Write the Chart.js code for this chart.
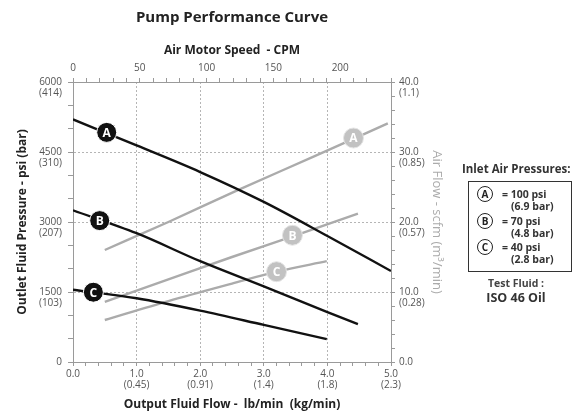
<!DOCTYPE html>
<html>
<head>
<meta charset="utf-8">
<title>Pump Performance Curve</title>
<script src="https://cdn.jsdelivr.net/npm/chart.js@4.4.1/dist/chart.umd.min.js"></script>
<style>
    body { margin: 0; background: #fff; font-family: 'Open Sans', sans-serif; }
    #wrap { position: relative; width: 576px; height: 413px; }
    .legend-title { position: absolute; left: 462px; top: 161px; font-size: 11.5px; font-weight: 700; color: #333; white-space: nowrap; }
    .legend-box { position: absolute; left: 468px; top: 181px; width: 102px; height: 89px; border: 1.5px solid #333; }
    .badge { position: absolute; width: 14px; height: 14px; border: 1.8px solid #222; border-radius: 50%;
             font-size: 10px; font-weight: 700; line-height: 14px; text-align: center; color: #222; }
    .lg-text { position: absolute; font-size: 10.5px; font-weight: 700; color: #333; white-space: nowrap; }
    .fluid { position: absolute; left: 470px; top: 276px; width: 92px; text-align: center; color: #333; }
    .fluid .t1 { font-size: 10.5px; font-weight: 700; color: #444; }
    .fluid .t2 { font-size: 12.5px; font-weight: 700; margin-top: -1px; }
</style>
</head>
<body>
<div id="wrap">
    <canvas id="pumpChart"></canvas>
    <div class="legend-title">Inlet Air Pressures:</div>
    <div class="legend-box" id="legendBox"></div>
    <div class="fluid"><div class="t1">Test Fluid :</div><div class="t2">ISO 46 Oil</div></div>
</div>
<script>
// Pump curve data

// Outlet fluid pressure (psi) vs output flow (lb/min) - black curves
const flowA = [0, 1, 2, 3, 4, 5];
const pressureA = [5200, 4640, 4070, 3430, 2700, 1950];
const flowB = [0, 1, 2, 3, 4, 4.48];
const pressureB = [3250, 2760, 2160, 1620, 1070, 810];
const flowC = [0, 1, 2, 3, 3.99];
const pressureC = [1550, 1365, 1100, 795, 490];

// Air flow (scfm) vs output flow - grey curves
const airFlowXA = [0.5, 1.5, 2.6, 3.8, 4.95];
const airA = [16.0, 20.0, 24.6, 29.4, 34.1];
const airFlowXB = [0.5, 1.5, 2.5, 3.5, 4.48];
const airB = [8.6, 11.8, 15.0, 18.1, 21.2];
const airFlowXC = [0.5, 1.5, 2.5, 3.2, 3.99];
const airC = [6.0, 8.7, 11.2, 12.9, 14.4];

// Curve markers (letters sit on the curves)
const curveLetters = ['A', 'B', 'C'];
const pressureMarkX = [0.53, 0.42, 0.32];
const pressureMarkY = [4920, 3030, 1495];
const airMarkX = [4.41, 3.45, 3.2];
const airMarkY = [32.0, 18.1, 12.9];

// Tick labels
const flowTicks = [0, 1, 2, 3, 4, 5];
const flowLbLabels = ['0.0', '1.0', '2.0', '3.0', '4.0', '5.0'];
const flowKgLabels = ['', '(0.45)', '(0.91)', '(1.4)', '(1.8)', '(2.3)'];
const psiTicks = [0, 1500, 3000, 4500, 6000];
const psiLabels = ['0', '1500', '3000', '4500', '6000'];
const barLabels = ['', '(103)', '(207)', '(310)', '(414)'];
const scfmTicks = [0, 10, 20, 30, 40];
const scfmLabels = ['0.0', '10.0', '20.0', '30.0', '40.0'];
const m3Labels = ['', '(0.28)', '(0.57)', '(0.85)', '(1.1)'];
const cpmTicks = [0, 50, 100, 150, 200];

// Inlet air pressure legend
const legendPsi = ['= 100 psi', '= 70 psi', '= 40 psi'];
const legendBar = ['(6.9 bar)', '(4.8 bar)', '(2.8 bar)'];

const BLACK = '#111111';
const GREY = '#ababab';
const GRID = '#b5b5b5';
const AXIS = '#9a9a9a';
const TICK_TEXT = '#555555';

function pairs(xs, ys) {
    return xs.map((x, i) => ({ x: x, y: ys[i] }));
}

function isNear(v, list) {
    return list.findIndex(t => Math.abs(t - v) < 1e-6);
}

// Draws the letter inside each curve marker
const markerLetters = {
    id: 'markerLetters',
    afterDatasetsDraw(chart) {
        const ctx = chart.ctx;
        chart.data.datasets.forEach((ds, i) => {
            if (!ds.letters) return;
            const meta = chart.getDatasetMeta(i);
            meta.data.forEach((pt, j) => {
                ctx.save();
                ctx.font = 'bold 12px "Open Sans"';
                ctx.fillStyle = '#ffffff';
                ctx.textAlign = 'center';
                ctx.textBaseline = 'middle';
                ctx.fillText(ds.letters[j], pt.x, pt.y + 1);
                ctx.restore();
            });
        });
    }
};

function buildLegend() {
    const box = document.getElementById('legendBox');
    curveLetters.forEach((letter, i) => {
        const top = 4 + i * 26.5;
        const badge = document.createElement('span');
        badge.className = 'badge';
        badge.style.left = '8px';
        badge.style.top = top + 'px';
        badge.textContent = letter;
        box.appendChild(badge);

        const psi = document.createElement('span');
        psi.className = 'lg-text';
        psi.style.left = '33px';
        psi.style.top = (top + 1) + 'px';
        psi.textContent = legendPsi[i];
        box.appendChild(psi);

        const bar = document.createElement('span');
        bar.className = 'lg-text';
        bar.style.left = '42px';
        bar.style.top = (top + 13) + 'px';
        bar.textContent = legendBar[i];
        box.appendChild(bar);
    });
}

function lineSet(label, data, color, axisId, order) {
    return {
        label: label,
        data: data,
        borderColor: color,
        borderWidth: 2.4,
        pointRadius: 0,
        cubicInterpolationMode: 'monotone',
        xAxisID: 'x',
        yAxisID: axisId,
        order: order
    };
}

function initializePumpChart() {
    const ctx = document.getElementById('pumpChart');

    const datasets = [
        {
            type: 'scatter',
            label: 'pressure markers',
            data: pairs(pressureMarkX, pressureMarkY),
            letters: curveLetters,
            pointRadius: 10,
            pointBackgroundColor: BLACK,
            pointBorderColor: '#ffffff',
            pointBorderWidth: 1,
            xAxisID: 'x',
            yAxisID: 'y',
            order: 0
        },
        {
            type: 'scatter',
            label: 'air markers',
            data: pairs(airMarkX, airMarkY),
            letters: curveLetters,
            pointRadius: 10,
            pointBackgroundColor: '#c2c2c2',
            pointBorderColor: '#e4e4e4',
            pointBorderWidth: 1,
            xAxisID: 'x',
            yAxisID: 'y2',
            order: 0
        },
        lineSet('Pressure A', pairs(flowA, pressureA), BLACK, 'y', 2),
        lineSet('Pressure B', pairs(flowB, pressureB), BLACK, 'y', 2),
        lineSet('Pressure C', pairs(flowC, pressureC), BLACK, 'y', 2),
        lineSet('Air A', pairs(airFlowXA, airA), GREY, 'y2', 3),
        lineSet('Air B', pairs(airFlowXB, airB), GREY, 'y2', 3),
        lineSet('Air C', pairs(airFlowXC, airC), GREY, 'y2', 3)
    ];

    const tickFont = { family: 'Open Sans', size: 10, lineHeight: 1.1 };
    const titleFont = { family: 'Open Sans', size: 12, weight: 'bold' };

    const config = {
        type: 'line',
        data: { datasets: datasets },
        plugins: [markerLetters],
        options: {
            responsive: true,
            maintainAspectRatio: false,
            animation: false,
            layout: { padding: { left: 0, right: 125, top: 0, bottom: 0 } },
            plugins: {
                legend: { display: false },
                tooltip: { enabled: false },
                title: {
                    display: true,
                    fullSize: false,
                    text: 'Pump Performance Curve',
                    color: '#222',
                    font: { family: 'Open Sans', size: 15, weight: 'bold' },
                    padding: { top: 9, bottom: 3 }
                }
            },
            scales: {
                x: {
                    type: 'linear',
                    position: 'bottom',
                    min: 0,
                    max: 5,
                    afterFit: (s) => { s.height = 51; },
                    border: { display: true, color: AXIS, width: 1, dash: [2, 2] },
                    grid: {
                        color: (c) => {
                            const v = c.tick ? c.tick.value : -1;
                            return (isNear(v, flowTicks) > 0 && v < 5) ? GRID : 'rgba(0,0,0,0)';
                        },
                        tickColor: AXIS,
                        tickLength: 4
                    },
                    ticks: {
                        stepSize: 0.2,
                        autoSkip: false,
                        maxRotation: 0,
                        padding: 3,
                        color: TICK_TEXT,
                        font: tickFont,
                        callback: (v) => {
                            const i = isNear(v, flowTicks);
                            if (i < 0) return '';
                            return i === 0 ? flowLbLabels[0] : [flowLbLabels[i], flowKgLabels[i]];
                        }
                    },
                    title: {
                        display: true,
                        text: 'Output Fluid Flow -  lb/min  (kg/min)',
                        color: '#222',
                        font: titleFont,
                        padding: { top: 0, bottom: 1 }
                    }
                },
                xTop: {
                    type: 'linear',
                    position: 'top',
                    min: 0,
                    max: 238,
                    afterFit: (s) => { s.height = 52; },
                    border: { display: true, color: AXIS, width: 1 },
                    grid: { drawOnChartArea: false, tickColor: AXIS, tickLength: 4 },
                    ticks: {
                        stepSize: 10,
                        autoSkip: false,
                        maxRotation: 0,
                        padding: 4,
                        color: TICK_TEXT,
                        font: tickFont,
                        callback: (v) => (isNear(v, cpmTicks) >= 0 ? String(v) : '')
                    },
                    title: {
                        display: true,
                        text: 'Air Motor Speed  - CPM',
                        color: '#222',
                        font: titleFont,
                        padding: { top: 13, bottom: 0 }
                    }
                },
                y: {
                    type: 'linear',
                    position: 'left',
                    min: 0,
                    max: 6000,
                    afterFit: (s) => { s.width = 73; },
                    border: { display: true, color: AXIS, width: 1, dash: [2, 2] },
                    grid: {
                        color: (c) => {
                            const v = c.tick ? c.tick.value : -1;
                            return (v > 0 && v < 6000 && v % 1500 === 0) ? GRID : 'rgba(0,0,0,0)';
                        },
                        tickColor: AXIS,
                        tickLength: 5
                    },
                    ticks: {
                        stepSize: 500,
                        autoSkip: false,
                        padding: 6,
                        color: TICK_TEXT,
                        font: tickFont,
                        callback: (v) => {
                            const i = isNear(v, psiTicks);
                            if (i < 0) return '';
                            return i === 0 ? psiLabels[0] : ['', psiLabels[i], barLabels[i]];
                        }
                    },
                    title: {
                        display: true,
                        text: 'Outlet Fluid Pressure - psi (bar)',
                        color: '#222',
                        font: titleFont,
                        padding: { top: 15, bottom: 0 }
                    }
                },
                y2: {
                    type: 'linear',
                    position: 'right',
                    min: 0,
                    max: 40,
                    afterFit: (s) => { s.width = 60; },
                    border: { display: true, color: AXIS, width: 1 },
                    grid: { drawOnChartArea: false, tickColor: AXIS, tickLength: 4 },
                    ticks: {
                        stepSize: 2,
                        autoSkip: false,
                        padding: 4,
                        color: TICK_TEXT,
                        font: tickFont,
                        callback: (v) => {
                            const i = isNear(v, scfmTicks);
                            if (i < 0) return '';
                            return i === 0 ? scfmLabels[0] : ['', scfmLabels[i], m3Labels[i]];
                        }
                    },
                    title: {
                        display: true,
                        text: 'Air Flow - scfm (m³/min)',
                        color: GREY,
                        font: { family: 'Open Sans', size: 13 },
                        padding: { top: 6, bottom: 0 }
                    }
                }
            }
        }
    };

    try {
        new Chart(ctx, config);
    } catch (error) {
        console.error('Error initializing pump chart:', error);
    }
}

buildLegend();
initializePumpChart();
</script>
</body>
</html>
